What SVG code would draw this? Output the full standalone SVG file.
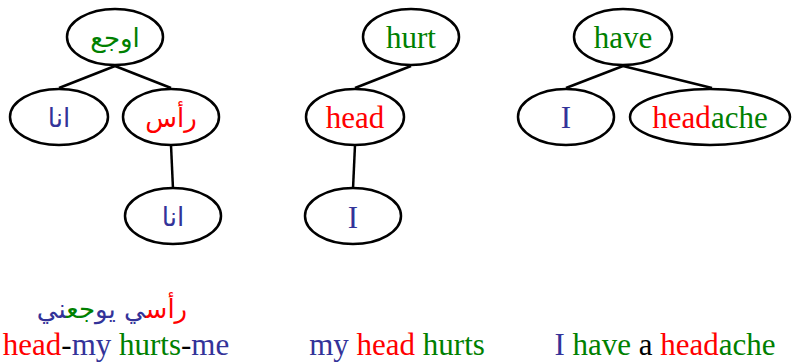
<svg xmlns="http://www.w3.org/2000/svg" width="792" height="363" viewBox="0 0 792 363">
  <style>
    .node { fill: #ffffff; stroke: #000000; stroke-width: 2.5; }
    .edge { stroke: #000000; stroke-width: 2.5; fill: none; }
    .lat { font-family: "Liberation Serif", "Times New Roman", serif; font-size: 31px; text-anchor: middle; }
    .ar { font-family: "DejaVu Sans", sans-serif; font-size: 26px; text-anchor: middle; direction: rtl; }
    .red { fill: #ff0000; }
    .grn { fill: #008000; }
    .blu { fill: #333399; }
    .blk { fill: #000000; }
  </style>

  <!-- connectors -->
  <g id="connectors">
    <line class="edge" x1="115" y1="66" x2="59" y2="88"/>
    <line class="edge" x1="115" y1="66" x2="171" y2="88"/>
    <line class="edge" x1="171" y1="145" x2="173" y2="189"/>
    <line class="edge" x1="411" y1="66" x2="355" y2="88"/>
    <line class="edge" x1="355" y1="145" x2="353" y2="189"/>
    <line class="edge" x1="623" y1="66" x2="566" y2="88"/>
    <line class="edge" x1="623" y1="66" x2="712" y2="88"/>
  </g>

  <!-- Arabic tree -->
  <g id="ar-root">
    <ellipse class="node" cx="115" cy="37" rx="48" ry="28"/>
    <text class="ar grn" x="115" y="47">اوجع</text>
  </g>
  <g id="ar-ana-1">
    <ellipse class="node" cx="59" cy="117" rx="49" ry="28"/>
    <text class="ar blu" x="59" y="127">انا</text>
  </g>
  <g id="ar-ras">
    <ellipse class="node" cx="171" cy="117" rx="48" ry="28"/>
    <text class="ar red" x="171" y="127">رأس</text>
  </g>
  <g id="ar-ana-2">
    <ellipse class="node" cx="173" cy="216" rx="48" ry="28"/>
    <text class="ar blu" x="173" y="226">انا</text>
  </g>

  <!-- "my head hurts" tree -->
  <g id="hurt">
    <ellipse class="node" cx="411" cy="37" rx="48" ry="28"/>
    <text class="lat grn" x="411" y="48">hurt</text>
  </g>
  <g id="head">
    <ellipse class="node" cx="355" cy="117" rx="49" ry="28"/>
    <text class="lat red" x="355" y="128">head</text>
  </g>
  <g id="i-1">
    <ellipse class="node" cx="353" cy="216" rx="48" ry="28"/>
    <text class="lat blu" x="353" y="228">I</text>
  </g>

  <!-- "I have a headache" tree -->
  <g id="have">
    <ellipse class="node" cx="623" cy="37" rx="49" ry="28"/>
    <text class="lat grn" x="623" y="48">have</text>
  </g>
  <g id="i-2">
    <ellipse class="node" cx="566" cy="117" rx="48" ry="28"/>
    <text class="lat blu" x="566" y="128">I</text>
  </g>
  <g id="headache">
    <ellipse class="node" cx="710" cy="117" rx="80" ry="28"/>
    <text class="lat" x="710" y="128"><tspan class="red">head</tspan><tspan class="grn">ache</tspan></text>
  </g>

  <!-- glosses -->
  <text class="ar" x="112" y="318"><tspan class="red">رأس</tspan><tspan class="blu">ي</tspan> <tspan class="blu">يو</tspan><tspan class="grn">جع</tspan><tspan class="blu">ني</tspan></text>
  <text class="lat" x="116" y="355"><tspan class="red">head</tspan><tspan class="blk">-</tspan><tspan class="blu">my</tspan> <tspan class="grn">hurts</tspan><tspan class="blk">-</tspan><tspan class="blu">me</tspan></text>
  <text class="lat" x="397" y="355"><tspan class="blu">my</tspan> <tspan class="red">head</tspan> <tspan class="grn">hurts</tspan></text>
  <text class="lat" x="665" y="355"><tspan class="blu">I</tspan> <tspan class="grn">have</tspan> <tspan class="blk">a</tspan> <tspan class="red">head</tspan><tspan class="grn">ache</tspan></text>
</svg>
